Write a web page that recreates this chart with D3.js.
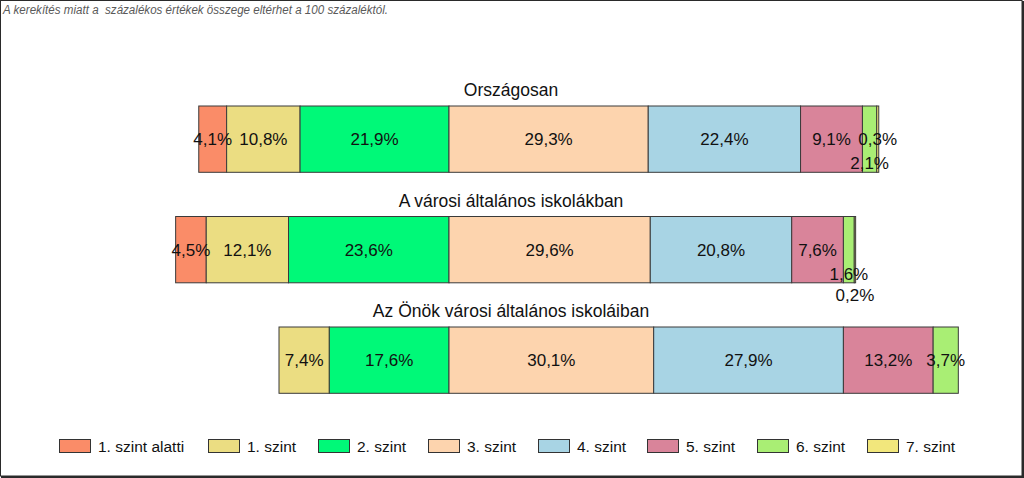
<!DOCTYPE html>
<html>
<head>
<meta charset="utf-8">
<script src="https://cdn.jsdelivr.net/npm/d3@7"></script>
<style>
  html, body { margin: 0; padding: 0; background: #fff; }
  svg { display: block; font-family: "Liberation Sans", Arial, sans-serif; }
</style>
</head>
<body>
<svg id="chart" width="1024" height="478"></svg>
<script>
// ---- data ----
const categories = ["Országosan", "A városi általános iskolákban", "Az Önök városi általános iskoláiban"];
const series = ["1. szint alatti", "1. szint", "2. szint", "3. szint", "4. szint", "5. szint", "6. szint", "7. szint"];
const lvlBelow1 = [4.1, 4.5, 0];
const lvl1 = [10.8, 12.1, 7.4];
const lvl2 = [21.9, 23.6, 17.6];
const lvl3 = [29.3, 29.6, 30.1];
const lvl4 = [22.4, 20.8, 27.9];
const lvl5 = [9.1, 7.6, 13.2];
const lvl6 = [2.1, 1.6, 3.7];
const lvl7 = [0.3, 0.2, 0];
const noteText = "A kerekítés miatt a  százalékos értékek összege eltérhet a 100 százaléktól.";

const colors = ["#FA8C68", "#EBDD82", "#00F978", "#FDD4AE", "#A8D4E4", "#D9849A", "#A9EE74", "#F2E77C"];

const valuesBySeries = [lvlBelow1, lvl1, lvl2, lvl3, lvl4, lvl5, lvl6, lvl7];
const nNeg = 3; // first three series lie to the left of the centre line

// ---- layout ----
const svg = d3.select("#chart");
const W = 1024, H = 478;

svg.append("rect").attr("x", 0.5).attr("y", 0.5).attr("width", W - 2.5).attr("height", H - 2.5)
  .attr("fill", "#fff").attr("stroke", "#2a2a2a").attr("stroke-width", 1);
svg.append("line").attr("x1", W - 1).attr("x2", W - 1).attr("y1", 1).attr("y2", H)
  .attr("stroke", "#2a2a2a").attr("stroke-width", 2);
svg.append("line").attr("x1", 1).attr("x2", W).attr("y1", H - 1).attr("y2", H - 1)
  .attr("stroke", "#2a2a2a").attr("stroke-width", 2);

svg.append("text").attr("x", 3).attr("y", 14)
  .attr("font-size", 12.5).attr("font-style", "italic").attr("fill", "#5a5a5a")
  .attr("textLength", 385).attr("lengthAdjust", "spacingAndGlyphs")
  .style("white-space", "pre")
  .text(noteText);

const pxPer = 6.8, center = 449;
const x = d3.scaleLinear().domain([-50, 90]).range([center - 50 * pxPer, center + 90 * pxPer]);
const y = d3.scaleBand().domain(categories).range([50.75, 448.55]).paddingInner(0.4).paddingOuter(0.5);

// build segments
const segs = [];
categories.forEach((c, ci) => {
  let negSum = 0;
  for (let s = 0; s < nNeg; s++) negSum += valuesBySeries[s][ci];
  let cur = -negSum;
  series.forEach((sname, si) => {
    const v = valuesBySeries[si][ci];
    segs.push({ cat: c, ci, si, v, x0: cur, x1: cur + v });
    cur += v;
  });
});

// label nudges for crowded thin segments (vertical offsets, px)
const nudge = { "0-6": 24, "1-6": 24, "1-7": 45 };

const g = svg.append("g");
g.selectAll("rect.seg").data(segs.filter(d => d.v > 0)).join("rect")
  .attr("class", "seg")
  .attr("x", d => x(d.x0))
  .attr("y", d => y(d.cat))
  .attr("width", d => x(d.x1) - x(d.x0))
  .attr("height", y.bandwidth())
  .attr("fill", d => colors[d.si])
  .attr("stroke", "#3a3a3a").attr("stroke-width", 1);

g.selectAll("text.lbl").data(segs.filter(d => d.v > 0)).join("text")
  .attr("class", "lbl")
  .attr("x", d => (x(d.x0) + x(d.x1)) / 2)
  .attr("y", d => y(d.cat) + y.bandwidth() / 2 + 6 + (nudge[d.ci + "-" + d.si] || 0))
  .attr("text-anchor", "middle")
  .attr("font-size", 17).attr("fill", "#111")
  .text(d => d3.format(".1f")(d.v).replace(".", ",") + "%");

// bar titles
g.selectAll("text.ttl").data(categories).join("text")
  .attr("class", "ttl")
  .attr("x", 511)
  .attr("y", d => y(d) - 10)
  .attr("text-anchor", "middle")
  .attr("font-size", 17.5).attr("fill", "#111")
  .text(d => d);

// legend
const legX = [59, 208, 318, 428, 538, 647, 757, 867];
const leg = svg.append("g");
series.forEach((s, i) => {
  leg.append("rect").attr("x", legX[i] + 0.5).attr("y", 439.5).attr("width", 31).attr("height", 13)
    .attr("fill", colors[i]).attr("stroke", "#333").attr("stroke-width", 1);
  leg.append("text").attr("x", legX[i] + 39).attr("y", 451.5)
    .attr("font-size", 15.5).attr("fill", "#111").text(s);
});
</script>
</body>
</html>
